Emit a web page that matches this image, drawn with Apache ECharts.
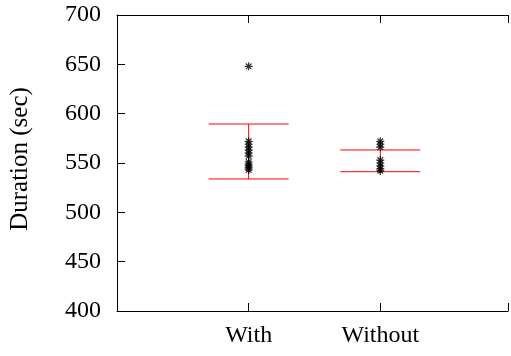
<!DOCTYPE html>
<html>
<head>
<meta charset="utf-8">
<script src="https://cdn.jsdelivr.net/npm/echarts@6/dist/echarts.min.js"></script>
<style>
  html, body { margin: 0; padding: 0; background: #fff; }
  #chart { width: 511px; height: 356px; }
</style>
</head>
<body>
<div id="chart"></div>
<script>
const categories = ['With', 'Without']
const withValues = [648, 572, 569, 566, 563, 560, 557, 551, 549, 547, 545, 543]
const withoutValues = [572, 569, 566, 553, 550, 547, 544, 542]
const errLow = [533.8, 541.2]
const errHigh = [589.5, 563.2]
const yTicks = [400, 450, 500, 550, 600, 650, 700]

const star = 'path://M0,5L10,5M5,0L5,10M1.5,1.5L8.5,8.5M8.5,1.5L1.5,8.5'
const font = 'Liberation Serif'

const chart = echarts.init(document.getElementById('chart'), null, { renderer: 'canvas' })

const pointSeries = [withValues, withoutValues].map((vals, i) => ({
  type: 'scatter',
  symbol: star,
  symbolSize: 8,
  itemStyle: { color: 'rgba(0,0,0,0)', borderColor: '#000', borderWidth: 1.2 },
  data: vals.map(v => [i + 1, v]),
  z: 3,
  silent: true,
}))

// plot runs off the right edge of the canvas, so max is a bit under 3
const xMax = 2.97

chart.setOption({
  animation: false,
  grid: { left: 116, right: 0, top: 15, bottom: 45 },
  xAxis: [
    {
      type: 'value', min: 0, max: xMax, interval: 1,
      axisLine: { lineStyle: { color: '#000', width: 1 } },
      axisTick: { inside: true, length: 8, lineStyle: { color: '#000' } },
      axisLabel: {
        margin: 13, fontFamily: font, fontSize: 24, color: '#000',
        formatter: v => categories[v - 1] || '',
      },
      splitLine: { show: false },
    },
    {
      type: 'value', position: 'top', min: 0, max: xMax, interval: 1,
      axisLine: { lineStyle: { color: '#000', width: 1 } },
      axisTick: { inside: true, length: 8, lineStyle: { color: '#000' } },
      axisLabel: { show: false },
      splitLine: { show: false },
    },
  ],
  yAxis: {
    type: 'value', min: yTicks[0], max: yTicks[yTicks.length - 1], interval: 50,
    name: 'Duration (sec)', nameLocation: 'middle', nameGap: 84, nameRotate: 90,
    nameTextStyle: { fontFamily: font, fontSize: 25, color: '#000', padding: [0, 0, 0, 8] },
    axisLine: { show: true, lineStyle: { color: '#000', width: 1 } },
    axisTick: { show: true, inside: true, length: 8, lineStyle: { color: '#000' } },
    axisLabel: { margin: 16, fontFamily: font, fontSize: 24, color: '#000' },
    splitLine: { show: false },
  },
  series: [
    {
      type: 'custom',
      silent: true,
      z: 2,
      data: categories.map((c, i) => [i + 1, errLow[i], errHigh[i]]),
      renderItem: (params, api) => {
        const x = api.value(0)
        const lo = api.coord([x, api.value(1)])
        const hi = api.coord([x, api.value(2)])
        const half = 40
        const style = { stroke: '#ff0000', lineWidth: 1 }
        return {
          type: 'group',
          children: [
            { type: 'line', shape: { x1: lo[0], y1: lo[1], x2: hi[0], y2: hi[1] }, style },
            { type: 'line', shape: { x1: lo[0] - half, y1: lo[1], x2: lo[0] + half, y2: lo[1] }, style },
            { type: 'line', shape: { x1: hi[0] - half, y1: hi[1], x2: hi[0] + half, y2: hi[1] }, style },
          ],
        }
      },
    },
    ...pointSeries,
  ],
})
</script>
</body>
</html>
